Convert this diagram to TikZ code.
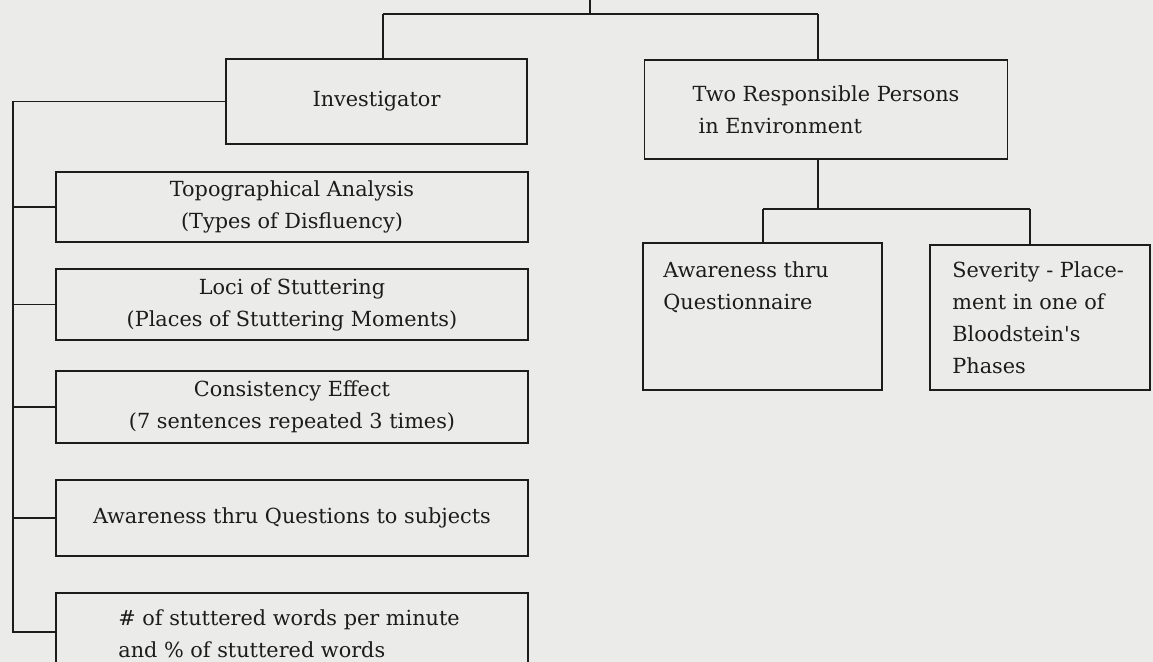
\documentclass[tikz,border=0pt]{standalone}
\usepackage{fontspec}
\setmainfont{DejaVu Serif}
\definecolor{paper}{RGB}{235,235,233}
\definecolor{ink}{RGB}{28,28,28}
\begin{document}
\begin{tikzpicture}[x=0.5pt,y=-0.5pt,
  every node/.style={font=\fontsize{10.4}{16}\selectfont, text=ink},
  box/.style={draw=ink, line width=0.9pt, rectangle, inner sep=0pt, align=center},
  lbox/.style={box, minimum width=236pt},
  txt/.style={inner sep=0pt, align=left, anchor=north west},
  conn/.style={draw=ink, line width=0.9pt}]
\useasboundingbox (0,0) rectangle (1153,662);
\clip (0,0) rectangle (1153,662);
\fill[paper] (0,0) rectangle (1153,662);

% top level
\node[box, minimum width=150.5pt, minimum height=42.5pt] (inv) at (376.5,101.5) {Investigator};
\node[box, minimum width=181.5pt, minimum height=49.5pt, align=left] (two) at (826,109.5) {Two Responsible Persons\\\hspace*{3pt}in Environment};

% right sub-boxes
\node[box, minimum width=119.5pt, minimum height=73.5pt] (awq) at (762.5,316.5) {};
\node[txt] (awqt) at (663,261) {Awareness thru\\Questionnaire};
\node[box, minimum width=110pt, minimum height=72.5pt] (sev) at (1040,317.5) {};
\node[txt] (sevt) at (952,261) {Severity - Place-\\ment in one of\\Bloodstein\textquotesingle s\\Phases};

% left column
\node[lbox, minimum height=35pt] (topo) at (292,207) {Topographical Analysis\\(Types of Disfluency)};
\node[lbox, minimum height=35.5pt] (loci) at (292,304.5) {Loci of Stuttering\\(Places of Stuttering Moments)};
\node[lbox, minimum height=36pt] (cons) at (292,407) {Consistency Effect\\(7 sentences repeated 3 times)};
\node[lbox, minimum height=38pt] (aws) at (292,518) {Awareness thru Questions to subjects};
\node[lbox, minimum height=43.5pt] (num) at (292,636.5) {};
\node[txt] (numt) at (118,609) {\# of stuttered words per minute\\and \% of stuttered words};

% connectors: top
\coordinate (top) at (590,0);
\coordinate (topj) at (590,14);
\coordinate (lj) at (383,14);
\coordinate (rj) at (818,14);
\draw[conn] (top) -- (topj);
\draw[conn] (lj) -- (rj);
\draw[conn] (lj) -- (lj |- inv.north);
\draw[conn] (rj) -- (rj |- two.north);

% right sub-tree
\coordinate (rm) at (818,209);
\coordinate (rl) at (763,209);
\coordinate (rr) at (1030,209);
\draw[conn] (rm |- two.south) -- (rm);
\draw[conn] (rl) -- (rr);
\draw[conn] (rl) -- (rl |- awq.north);
\draw[conn] (rr) -- (rr |- sev.north);

% left trunk
\coordinate (tb) at (13,632);
\draw[conn] (inv.west) -| (tb) -- (tb -| num.west);
\draw[conn] (tb |- topo.west) -- (topo.west);
\draw[conn] (tb |- loci.west) -- (loci.west);
\draw[conn] (tb |- cons.west) -- (cons.west);
\draw[conn] (tb |- aws.west) -- (aws.west);
\end{tikzpicture}
\end{document}
